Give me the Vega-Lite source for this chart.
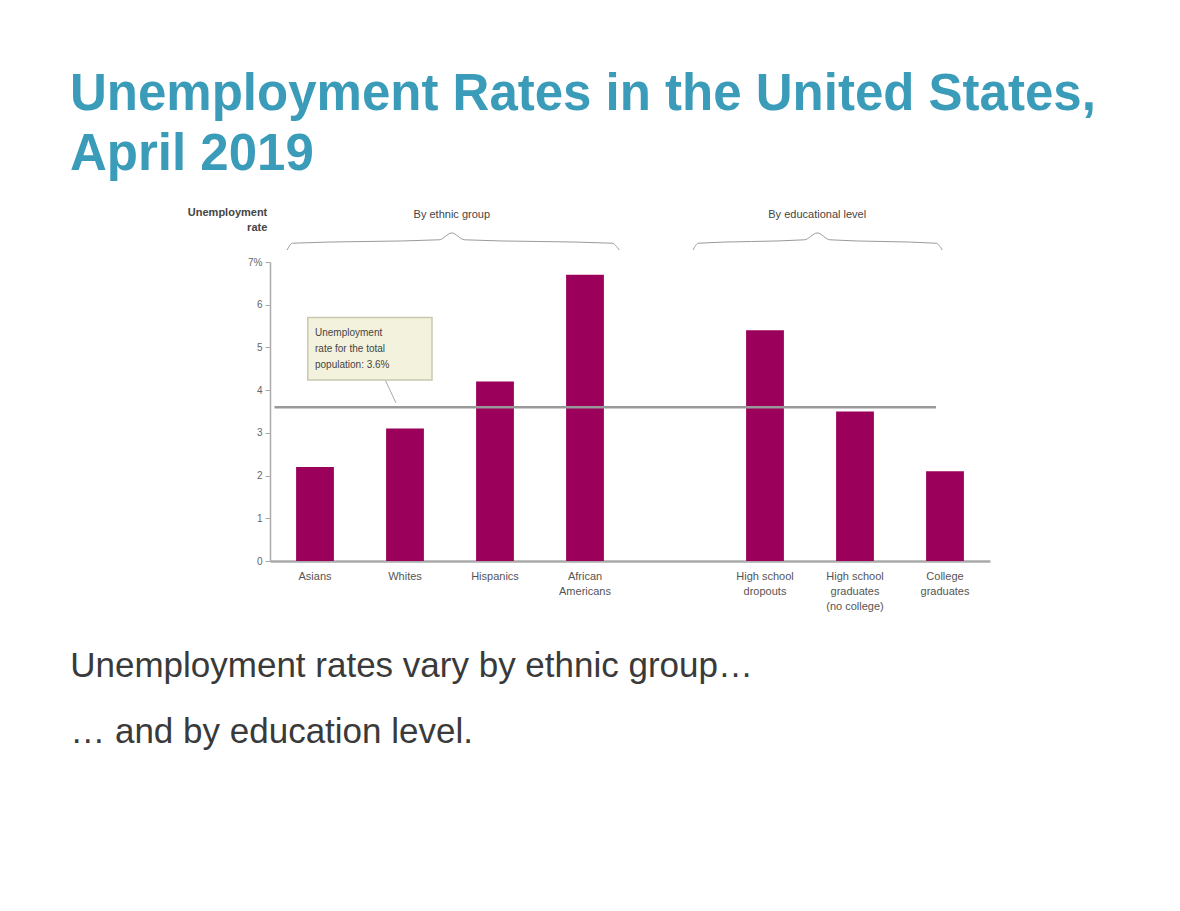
{
  "$schema": "https://vega.github.io/schema/vega-lite/v6.json",
  "autosize": "none",
  "width": 720,
  "height": 299,
  "padding": {"left": 270, "top": 262, "right": 190, "bottom": 350},
  "background": "white",
  "config": {"view": {"stroke": null}, "font": "Liberation Sans"},
  "title": {
    "text": ["Unemployment Rates in the United States,", "April 2019"],
    "anchor": "start",
    "frame": "group",
    "dx": -200,
    "offset": 26,
    "fontSize": 51,
    "fontWeight": "bold",
    "color": "#3b9cba",
    "lineHeight": 60,
    "font": "Liberation Sans"
  },
  "datasets": {
    "bars": [
      {"category": "Asians", "label": "Asians", "rate": 2.2},
      {"category": "Whites", "label": "Whites", "rate": 3.1},
      {"category": "Hispanics", "label": "Hispanics", "rate": 4.2},
      {"category": "African Americans", "label": "African|Americans", "rate": 6.7},
      {"category": "High school dropouts", "label": "High school|dropouts", "rate": 5.4},
      {"category": "High school graduates (no college)", "label": "High school|graduates|(no college)", "rate": 3.5},
      {"category": "College graduates", "label": "College|graduates", "rate": 2.1}
    ],
    "overall": [{"start": 0.05, "end": 7.4, "rate": 3.6}],
    "braces": [
      {"brace": "ethnic", "order": 1, "x": 0.19, "y": 7.28},
      {"brace": "ethnic", "order": 2, "x": 0.25, "y": 7.44},
      {"brace": "ethnic", "order": 3, "x": 1.88, "y": 7.52},
      {"brace": "ethnic", "order": 4, "x": 2.02, "y": 7.68},
      {"brace": "ethnic", "order": 5, "x": 2.16, "y": 7.52},
      {"brace": "ethnic", "order": 6, "x": 3.8, "y": 7.44},
      {"brace": "ethnic", "order": 7, "x": 3.88, "y": 7.28},
      {"brace": "education", "order": 1, "x": 4.7, "y": 7.28},
      {"brace": "education", "order": 2, "x": 4.76, "y": 7.44},
      {"brace": "education", "order": 3, "x": 5.94, "y": 7.52},
      {"brace": "education", "order": 4, "x": 6.08, "y": 7.68},
      {"brace": "education", "order": 5, "x": 6.22, "y": 7.52},
      {"brace": "education", "order": 6, "x": 7.4, "y": 7.44},
      {"brace": "education", "order": 7, "x": 7.47, "y": 7.28}
    ],
    "groupLabels": [
      {"text": "By ethnic group", "x": 2.02, "y": 8.1},
      {"text": "By educational level", "x": 6.08, "y": 8.1}
    ],
    "callout": [{"x": 0.42, "x2": 1.8, "y": 5.7, "y2": 4.24}],
    "pointer": [
      {"order": 1, "x": 1.28, "y": 4.24},
      {"order": 2, "x": 1.4, "y": 3.7}
    ],
    "calloutText": [{"text": "Unemployment|rate for the total|population: 3.6%", "x": 0.5, "y": 5.45}],
    "yTitle": [{"text": "Unemployment|rate", "x": -0.03, "y": 8.15}],
    "bottomText": [
      {"text": "Unemployment rates vary by ethnic group…", "x": -2.22, "y": -2.45},
      {"text": "… and by education level.", "x": -2.22, "y": -4.0}
    ]
  },
  "layer": [
    {
      "data": {"name": "bars"},
      "layer": [
        {
          "mark": {"type": "bar", "color": "#9b005a"},
          "encoding": {
            "x": {
              "field": "category",
              "type": "nominal",
              "sort": null,
              "scale": {
                "domain": ["Asians", "Whites", "Hispanics", "African Americans", "gap", "High school dropouts", "High school graduates (no college)", "College graduates"],
                "paddingInner": 0.58,
                "paddingOuter": 0.29
              },
              "axis": {"labels": false, "ticks": false, "title": null, "domainColor": "#aaaaaa", "domainWidth": 2.5}
            },
            "y": {
              "field": "rate",
              "type": "quantitative",
              "scale": {"domain": [0, 7], "nice": false},
              "axis": {
                "title": null,
                "values": [0, 1, 2, 3, 4, 5, 6, 7],
                "labelExpr": "datum.value == 7 ? '7%' : datum.label",
                "grid": false,
                "domainColor": "#aaaaaa",
                "domainWidth": 1.5,
                "tickColor": "#aaaaaa",
                "tickSize": 5,
                "labelColor": "#666666",
                "labelFontSize": 10,
                "labelPadding": 3
              }
            }
          }
        },
        {
          "mark": {"type": "text", "baseline": "top", "dy": 10, "fontSize": 11, "color": "#555555", "lineBreak": "|", "lineHeight": 15},
          "encoding": {
            "x": {"field": "category", "type": "nominal", "sort": null},
            "y": {"datum": 0},
            "text": {"field": "label"}
          }
        }
      ]
    },
    {
      "layer": [
        {
          "data": {"name": "overall"},
          "mark": {"type": "rule", "color": "#999999", "strokeWidth": 2.5},
          "encoding": {
            "x": {"field": "start", "type": "quantitative", "scale": {"domain": [0, 8], "nice": false, "zero": false}, "axis": null},
            "x2": {"field": "end"},
            "y": {"field": "rate", "type": "quantitative"}
          }
        },
        {
          "data": {"name": "braces"},
          "mark": {"type": "line", "color": "#9a9a9a", "strokeWidth": 1, "interpolate": "monotone"},
          "encoding": {
            "x": {"field": "x", "type": "quantitative"},
            "y": {"field": "y", "type": "quantitative"},
            "detail": {"field": "brace"},
            "order": {"field": "order"}
          }
        },
        {
          "data": {"name": "groupLabels"},
          "mark": {"type": "text", "fontSize": 11, "color": "#444444", "baseline": "middle"},
          "encoding": {
            "x": {"field": "x", "type": "quantitative"},
            "y": {"field": "y", "type": "quantitative"},
            "text": {"field": "text"}
          }
        },
        {
          "data": {"name": "pointer"},
          "mark": {"type": "line", "color": "#aaaaaa", "strokeWidth": 1},
          "encoding": {
            "x": {"field": "x", "type": "quantitative"},
            "y": {"field": "y", "type": "quantitative"},
            "order": {"field": "order"}
          }
        },
        {
          "data": {"name": "callout"},
          "mark": {"type": "rect", "fill": "#f3f2dc", "stroke": "#c9c8b0", "strokeWidth": 1.5},
          "encoding": {
            "x": {"field": "x", "type": "quantitative"},
            "x2": {"field": "x2"},
            "y": {"field": "y", "type": "quantitative"},
            "y2": {"field": "y2"}
          }
        },
        {
          "data": {"name": "calloutText"},
          "mark": {"type": "text", "align": "left", "baseline": "top", "fontSize": 10, "color": "#444444", "lineBreak": "|", "lineHeight": 16},
          "encoding": {
            "x": {"field": "x", "type": "quantitative"},
            "y": {"field": "y", "type": "quantitative"},
            "text": {"field": "text"}
          }
        },
        {
          "data": {"name": "yTitle"},
          "mark": {"type": "text", "align": "right", "baseline": "middle", "fontSize": 11, "fontWeight": "bold", "color": "#444444", "lineBreak": "|", "lineHeight": 15},
          "encoding": {
            "x": {"field": "x", "type": "quantitative"},
            "y": {"field": "y", "type": "quantitative"},
            "text": {"field": "text"}
          }
        },
        {
          "data": {"name": "bottomText"},
          "mark": {"type": "text", "align": "left", "baseline": "middle", "fontSize": 35, "color": "#3a3a3a", "font": "Liberation Sans"},
          "encoding": {
            "x": {"field": "x", "type": "quantitative"},
            "y": {"field": "y", "type": "quantitative"},
            "text": {"field": "text"}
          }
        }
      ]
    }
  ],
  "resolve": {"scale": {"x": "independent"}, "axis": {"x": "independent"}}
}
